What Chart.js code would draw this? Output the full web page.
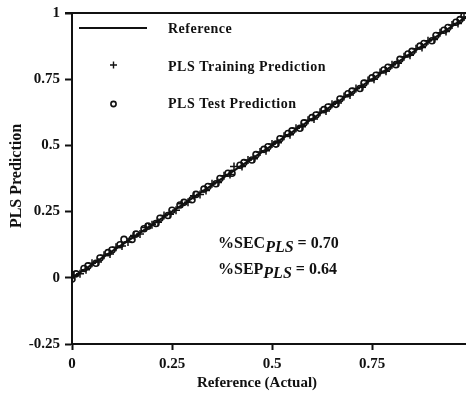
<!DOCTYPE html>
<html>
<head>
<meta charset="utf-8">
<script src="https://cdn.jsdelivr.net/npm/chart.js@4.4.0/dist/chart.umd.min.js"></script>
<style>
  html, body { margin: 0; padding: 0; background: #fff; }
  #wrap { width: 466px; height: 396px; }
</style>
</head>
<body>
<div id="wrap"><canvas id="myChart" width="466" height="396"></canvas></div>
<script>
const BLACK = '#111';
const SERIF = '"Liberation Serif", "DejaVu Serif", serif';

// ticks
const X_TICKS = [0, 0.25, 0.5, 0.75];
const Y_TICKS = [-0.25, 0, 0.25, 0.5, 0.75, 1];

// reference line y = x
const refX = [0, 1];
const refY = [0, 1];

// PLS test prediction (circles)
const testX = [0.00, 0.01, 0.03, 0.04, 0.06, 0.07, 0.09, 0.10, 0.12, 0.13, 0.15, 0.16, 0.18, 0.19, 0.21,
               0.22, 0.24, 0.25, 0.27, 0.28, 0.30, 0.31, 0.33, 0.34, 0.36, 0.37, 0.39, 0.40, 0.42, 0.43,
               0.45, 0.46, 0.48, 0.49, 0.51, 0.52, 0.54, 0.55, 0.57, 0.58, 0.60, 0.61, 0.63, 0.64, 0.66,
               0.67, 0.69, 0.70, 0.72, 0.73, 0.75, 0.76, 0.78, 0.79, 0.81, 0.82, 0.84, 0.85, 0.87, 0.88,
               0.90, 0.91, 0.93, 0.94, 0.96, 0.97, 0.98];
const testY = [-0.005, 0.015, 0.035, 0.045, 0.055, 0.075, 0.095, 0.105, 0.125, 0.145, 0.145, 0.165, 0.185, 0.195, 0.205,
               0.225, 0.235, 0.255, 0.275, 0.285, 0.295, 0.315, 0.335, 0.345, 0.355, 0.375, 0.395, 0.395, 0.425, 0.435,
               0.445, 0.465, 0.485, 0.495, 0.505, 0.525, 0.545, 0.555, 0.565, 0.585, 0.605, 0.615, 0.635, 0.645, 0.655,
               0.675, 0.695, 0.705, 0.715, 0.735, 0.755, 0.765, 0.785, 0.795, 0.805, 0.825, 0.845, 0.855, 0.875, 0.885,
               0.895, 0.915, 0.935, 0.945, 0.965, 0.975, 0.99];

// PLS training prediction (plus signs)
const trainX = [0.005, 0.02, 0.035, 0.05, 0.065, 0.08, 0.095, 0.11, 0.125, 0.14, 0.155, 0.17, 0.185, 0.20, 0.215,
                0.23, 0.245, 0.26, 0.275, 0.29, 0.305, 0.32, 0.335, 0.35, 0.365, 0.38, 0.395, 0.405, 0.425, 0.44,
                0.455, 0.47, 0.485, 0.50, 0.515, 0.53, 0.545, 0.56, 0.575, 0.59, 0.605, 0.62, 0.635, 0.65, 0.665,
                0.68, 0.695, 0.71, 0.725, 0.74, 0.755, 0.77, 0.785, 0.80, 0.815, 0.83, 0.845, 0.86, 0.875, 0.89,
                0.905, 0.92, 0.935, 0.95, 0.965, 0.98];
const trainY = [0.010, 0.015, 0.030, 0.055, 0.060, 0.085, 0.090, 0.115, 0.120, 0.135, 0.160, 0.165, 0.190, 0.200, 0.210,
                0.235, 0.240, 0.255, 0.280, 0.285, 0.310, 0.315, 0.330, 0.355, 0.360, 0.385, 0.390, 0.420, 0.420, 0.445,
                0.450, 0.475, 0.480, 0.505, 0.510, 0.535, 0.540, 0.565, 0.570, 0.595, 0.600, 0.625, 0.630, 0.655, 0.660,
                0.685, 0.690, 0.715, 0.720, 0.745, 0.750, 0.775, 0.780, 0.805, 0.810, 0.835, 0.840, 0.865, 0.870, 0.895,
                0.900, 0.925, 0.930, 0.955, 0.960, 0.985];

function toPoints(xs, ys) {
    return xs.map((x, i) => ({ x, y: ys[i] }));
}

// legend, frame, axis titles and statistics drawn on top
const decorations = {
    id: 'decorations',
    afterDraw(chart) {
        const { ctx, chartArea } = chart;
        ctx.save();
        // top frame line
        ctx.strokeStyle = BLACK;
        ctx.lineWidth = 2;
        ctx.beginPath();
        ctx.moveTo(chartArea.left - 7, chartArea.top);
        ctx.lineTo(chartArea.right, chartArea.top);
        ctx.stroke();

        // legend
        ctx.fillStyle = BLACK;
        ctx.font = 'bold 14px ' + SERIF;
        ctx.letterSpacing = '0.5px';
        ctx.textBaseline = 'middle';
        ctx.textAlign = 'left';
        ctx.lineWidth = 2;
        ctx.beginPath();
        ctx.moveTo(79, 28);
        ctx.lineTo(147, 28);
        ctx.stroke();
        ctx.fillText('Reference', 168, 29);

        ctx.lineWidth = 1.4;
        ctx.beginPath();
        ctx.moveTo(110, 65); ctx.lineTo(117, 65);
        ctx.moveTo(113.5, 61.5); ctx.lineTo(113.5, 68.5);
        ctx.stroke();
        ctx.fillText('PLS Training Prediction', 168, 67);

        ctx.lineWidth = 1.6;
        ctx.beginPath();
        ctx.arc(113.5, 104, 2.6, 0, Math.PI * 2);
        ctx.stroke();
        ctx.fillText('PLS Test Prediction', 168, 104);
        ctx.letterSpacing = '0px';

        // statistics
        drawStat(ctx, 218, 248, '%SEC', 'PLS', ' = 0.70');
        drawStat(ctx, 218, 274, '%SEP', 'PLS', ' = 0.64');

        // axis titles
        ctx.textAlign = 'center';
        ctx.textBaseline = 'middle';
        ctx.font = 'bold 15px ' + SERIF;
        ctx.fillText('Reference (Actual)', 257, 383);
        ctx.translate(17, 176);
        ctx.rotate(-Math.PI / 2);
        ctx.font = 'bold 16px ' + SERIF;
        ctx.fillText('PLS Prediction', 0, 0);
        ctx.restore();
    }
};

function drawStat(ctx, x, y, head, sub, tail) {
    ctx.textAlign = 'left';
    ctx.textBaseline = 'alphabetic';
    ctx.font = 'bold 16px ' + SERIF;
    ctx.fillText(head, x, y);
    x += ctx.measureText(head).width;
    ctx.font = 'italic bold 16px ' + SERIF;
    ctx.fillText(sub, x, y + 4);
    x += ctx.measureText(sub).width;
    ctx.font = 'bold 16px ' + SERIF;
    ctx.fillText(tail, x, y);
}

const ctx = document.getElementById('myChart').getContext('2d');

new Chart(ctx, {
    type: 'scatter',
    data: {
        datasets: [
            {
                label: 'Reference',
                type: 'line',
                data: toPoints(refX, refY),
                borderColor: BLACK,
                borderWidth: 2.2,
                pointRadius: 0,
                fill: false,
                order: 3
            },
            {
                label: 'PLS Training Prediction',
                data: toPoints(trainX, trainY),
                pointStyle: 'cross',
                pointRadius: 4,
                borderColor: BLACK,
                borderWidth: 1.5,
                backgroundColor: BLACK,
                order: 2
            },
            {
                label: 'PLS Test Prediction',
                data: toPoints(testX, testY),
                pointStyle: 'circle',
                pointRadius: 3,
                borderColor: BLACK,
                borderWidth: 1.6,
                backgroundColor: 'rgba(255,255,255,0)',
                order: 1
            }
        ]
    },
    options: {
        animation: false,
        responsive: false,
        events: [],
        layout: { autoPadding: false, padding: { top: 13, right: 0, left: 0, bottom: 0 } },
        plugins: {
            legend: { display: false },
            tooltip: { enabled: false }
        },
        scales: {
            x: {
                type: 'linear',
                min: 0,
                max: 0.985,
                afterBuildTicks(scale) {
                    scale.ticks = X_TICKS.map(v => ({ value: v }));
                },
                afterFit(scale) {
                    scale.height = 52;
                    scale.paddingRight = 0;
                    scale.paddingLeft = 0;
                },
                border: { display: true, color: BLACK, width: 2 },
                grid: { drawOnChartArea: false, drawTicks: true, tickLength: 6, color: BLACK, tickWidth: 2 },
                ticks: {
                    color: BLACK,
                    padding: 5,
                    maxRotation: 0,
                    font: { family: SERIF, size: 15, weight: 'bold' },
                    callback: v => String(v)
                }
            },
            y: {
                type: 'linear',
                min: -0.25,
                max: 1,
                afterBuildTicks(scale) {
                    scale.ticks = Y_TICKS.map(v => ({ value: v }));
                },
                afterFit(scale) {
                    scale.width = 72;
                    scale.paddingTop = 0;
                    scale.paddingBottom = 0;
                },
                border: { display: true, color: BLACK, width: 2 },
                grid: { drawOnChartArea: false, drawTicks: true, tickLength: 7, color: BLACK, tickWidth: 2 },
                ticks: {
                    color: BLACK,
                    padding: 5,
                    font: { family: SERIF, size: 15, weight: 'bold' },
                    callback: v => String(v)
                }
            }
        }
    },
    plugins: [decorations]
});
</script>
</body>
</html>
